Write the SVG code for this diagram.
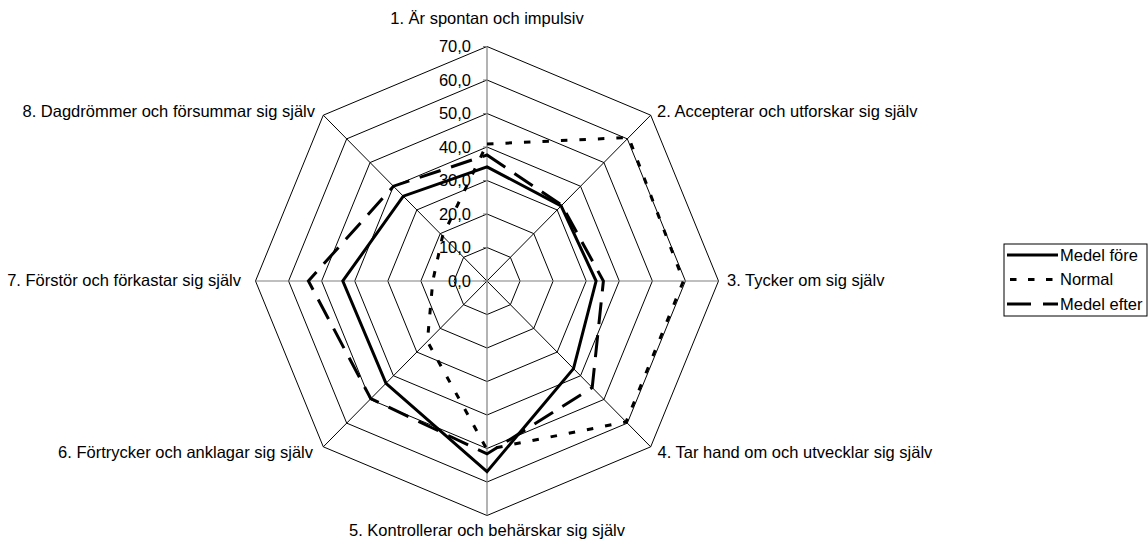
<svg xmlns="http://www.w3.org/2000/svg" width="1148" height="545" viewBox="0 0 1148 545">
<style>
text{font-family:"Liberation Sans",Arial,sans-serif;font-size:16.5px;fill:#000}
.ring{fill:none;stroke:#000;stroke-width:1}
.spoke{stroke:#000;stroke-width:1}
.axis{stroke:#808080;stroke-width:1.2}
.val{text-anchor:end}
.s{fill:none;stroke:#000;stroke-width:3;stroke-linejoin:miter}
.fore{}
.norm{stroke-dasharray:6.5 12}
.efter{stroke-dasharray:22 11}
</style>
<rect width="1148" height="545" fill="#fff"/>
<g id="grid">
<polygon class="ring" points="487,247.5 510.38,257.31 520.07,281 510.38,304.69 487,314.5 463.62,304.69 453.93,281 463.62,257.31"/>
<polygon class="ring" points="487,214 533.77,233.62 553.14,281 533.77,328.38 487,348 440.23,328.38 420.86,281 440.23,233.62"/>
<polygon class="ring" points="487,180.5 557.16,209.94 586.21,281 557.16,352.06 487,381.5 416.84,352.06 387.79,281 416.84,209.94"/>
<polygon class="ring" points="487,147 580.54,186.25 619.28,281 580.54,375.75 487,415 393.46,375.75 354.72,281 393.46,186.25"/>
<polygon class="ring" points="487,113.5 603.93,162.56 652.36,281 603.93,399.44 487,448.5 370.07,399.44 321.64,281 370.07,162.56"/>
<polygon class="ring" points="487,80 627.31,138.87 685.43,281 627.31,423.13 487,482 346.69,423.13 288.57,281 346.69,138.87"/>
<polygon class="ring" points="487,46.5 650.7,115.18 718.5,281 650.7,446.82 487,515.5 323.3,446.82 255.5,281 323.3,115.18"/>
<line class="spoke" x1="487" y1="281" x2="650.7" y2="115.18"/>
<line class="spoke" x1="487" y1="281" x2="650.7" y2="446.82"/>
<line class="spoke" x1="487" y1="281" x2="323.3" y2="446.82"/>
<line class="spoke" x1="487" y1="281" x2="323.3" y2="115.18"/>
<line class="axis" x1="255.5" y1="281" x2="718.5" y2="281"/>
<line class="axis" x1="487" y1="46.5" x2="487" y2="515.5"/>
<path class="axis" d="M483,281H487M483,247.5H487M483,214H487M483,180.5H487M483,147H487M483,113.5H487M483,80H487M483,46.5H487"/>
</g>
<g id="value-labels">
<text class="val" x="471" y="286.7">0,0</text>
<text class="val" x="471" y="253.2">10,0</text>
<text class="val" x="471" y="219.7">20,0</text>
<text class="val" x="471" y="186.2">30,0</text>
<text class="val" x="471" y="152.7">40,0</text>
<text class="val" x="471" y="119.2">50,0</text>
<text class="val" x="471" y="85.7">60,0</text>
<text class="val" x="471" y="52.2">70,0</text>
</g>
<g id="axis-labels">
<text id="label-1" x="487" y="24" text-anchor="middle">1. Är spontan och impulsiv</text>
<text id="label-2" x="657" y="117">2. Accepterar och utforskar sig själv</text>
<text id="label-3" x="727" y="285.5">3. Tycker om sig själv</text>
<text id="label-4" x="657.5" y="457.5">4. Tar hand om och utvecklar sig själv</text>
<text id="label-5" x="487" y="536" text-anchor="middle">5. Kontrollerar och behärskar sig själv</text>
<text id="label-6" x="313" y="457.5" text-anchor="end">6. Förtrycker och anklagar sig själv</text>
<text id="label-7" x="241" y="285.5" text-anchor="end">7. Förstör och förkastar sig själv</text>
<text id="label-8" x="315" y="117" text-anchor="end">8. Dagdrömmer och försummar sig själv</text>
</g>
<g id="connectors">
<polygon id="series-normal" class="s norm" points="487,144 628.7,137.5 683.4,281 626.1,421.9 487,449.5 427.4,341.4 432.8,281 442.6,236"/>
<polygon id="series-efter" class="s efter" points="487,155 561.8,205.2 603.4,281 592.2,387.6 487,453.9 370.8,398.7 308.4,281 393.5,186.2"/>
<polygon id="series-fore" class="s fore" points="487,166.8 561.1,205.9 596.1,281 573.5,368.6 487,471.6 386,383.3 342.8,281 403.3,196.2"/>
</g>
<g id="legend">
<rect x="1004" y="244" width="143" height="72" fill="#fff" stroke="#000" stroke-width="1"/>
<line class="s fore" x1="1007" y1="255" x2="1058" y2="255"/>
<text x="1060" y="260.7">Medel före</text>
<line class="s norm" x1="1010" y1="279.5" x2="1058" y2="279.5" style="stroke-dasharray:6.5 11.5"/>
<text x="1060" y="285.2">Normal</text>
<line class="s efter" x1="1007" y1="304" x2="1058" y2="304" style="stroke-dasharray:24 12"/>
<text x="1060" y="309.7">Medel efter</text>
</g>
</svg>
